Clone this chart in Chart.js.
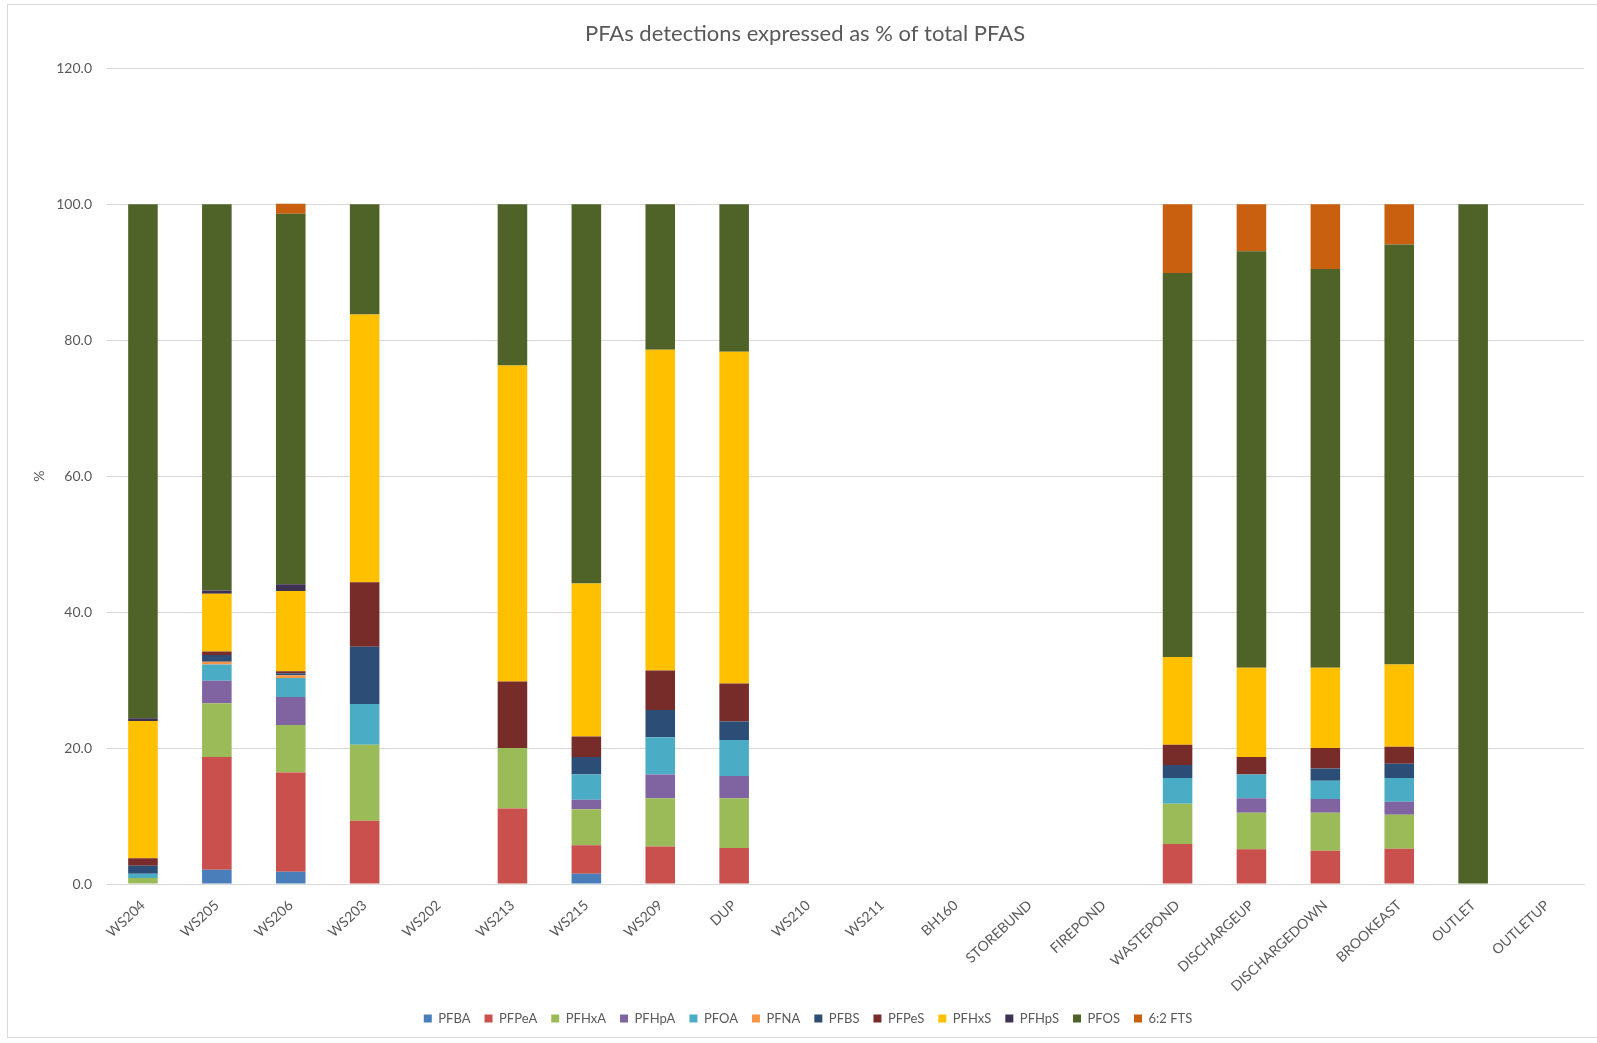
<!DOCTYPE html>
<html>
<head>
<meta charset="utf-8">
<script src="https://cdn.jsdelivr.net/npm/chart.js@4.4.0/dist/chart.umd.min.js"></script>
<style>
  html, body { margin: 0; padding: 0; background: #ffffff; }
  #wrap { position: relative; width: 1597px; height: 1043px; }
  #frame { position: absolute; left: 7px; top: 4px; width: 1595px; height: 1034px; border: 1px solid #d9d9d9; box-sizing: border-box; pointer-events: none; }
  canvas { position: absolute; left: 0; top: 0; }
</style>
</head>
<body>
<div id="wrap">
  <canvas id="c" width="1597" height="1043"></canvas>
  <div id="frame"></div>
</div>
<script>
const categories = ["WS204","WS205","WS206","WS203","WS202","WS213","WS215","WS209","DUP","WS210","WS211","BH160","STOREBUND","FIREPOND","WASTEPOND","DISCHARGEUP","DISCHARGEDOWN","BROOKEAST","OUTLET","OUTLETUP"];

const PFBA   = [0, 2.1, 1.8, 0, 0, 0, 1.5, 0, 0, 0, 0, 0, 0, 0, 0, 0, 0, 0, 0, 0];
const PFPeA  = [0, 16.6, 14.6, 9.3, 0, 11.1, 4.2, 5.5, 5.3, 0, 0, 0, 0, 0, 5.9, 5.1, 4.9, 5.2, 0, 0];
const PFHxA  = [0.9, 7.9, 7.0, 11.2, 0, 8.9, 5.3, 7.1, 7.3, 0, 0, 0, 0, 0, 5.9, 5.4, 5.6, 5.0, 0, 0];
const PFHpA  = [0, 3.3, 4.1, 0, 0, 0, 1.4, 3.5, 3.3, 0, 0, 0, 0, 0, 0, 2.1, 2.0, 1.9, 0, 0];
const PFOA   = [0.6, 2.4, 2.8, 6.0, 0, 0, 3.7, 5.5, 5.3, 0, 0, 0, 0, 0, 3.8, 3.5, 2.7, 3.5, 0, 0];
const PFNA   = [0, 0.4, 0.4, 0, 0, 0, 0, 0, 0, 0, 0, 0, 0, 0, 0, 0, 0, 0, 0, 0];
const PFBS   = [1.2, 1.0, 0.3, 8.4, 0, 0, 2.6, 4.0, 2.7, 0, 0, 0, 0, 0, 1.9, 0, 1.8, 2.1, 0, 0];
const PFPeS  = [1.1, 0.5, 0.3, 9.5, 0, 9.8, 3.0, 5.8, 5.6, 0, 0, 0, 0, 0, 3.0, 2.6, 3.0, 2.5, 0, 0];
const PFHxS  = [20.2, 8.5, 11.8, 39.4, 0, 46.5, 22.5, 47.2, 48.8, 0, 0, 0, 0, 0, 12.9, 13.1, 11.8, 12.1, 0, 0];
const PFHpS  = [0.4, 0.5, 1.0, 0, 0, 0, 0, 0, 0, 0, 0, 0, 0, 0, 0, 0, 0, 0, 0, 0];
const PFOS   = [75.6, 56.8, 54.5, 16.2, 0, 23.7, 55.8, 21.4, 21.7, 0, 0, 0, 0, 0, 56.5, 61.3, 58.7, 61.8, 100, 0];
const FTS62  = [0, 0, 1.5, 0, 0, 0, 0, 0, 0, 0, 0, 0, 0, 0, 10.1, 6.9, 9.5, 5.9, 0, 0];

const seriesNames = ["PFBA","PFPeA","PFHxA","PFHpA","PFOA","PFNA","PFBS","PFPeS","PFHxS","PFHpS","PFOS","6:2 FTS"];
const seriesValues = [PFBA, PFPeA, PFHxA, PFHpA, PFOA, PFNA, PFBS, PFPeS, PFHxS, PFHpS, PFOS, FTS62];
const seriesColors = ["#4a7ebb","#c9504d","#9bbb59","#8064a2","#4bacc6","#f79646","#2c4d75","#772c2a","#ffc000","#3f3151","#4f6228","#c8600f"];

const yTicks = [0, 20, 40, 60, 80, 100, 120];

const FONT = "Lato, 'Open Sans', sans-serif";
const TXT = "#595959";

// shift the full-width title and legend boxes slightly right, as in the reference
const shiftBoxes = {
  id: 'shiftBoxes',
  beforeDraw(chart) {
    if (chart.titleBlock) { chart.titleBlock.left = 13; chart.titleBlock.right = 1597; }
    if (chart.legend) { chart.legend.left = 16; chart.legend.right = 1600; }
  }
};

new Chart(document.getElementById('c'), {
  type: 'bar',
  data: {
    labels: categories,
    datasets: seriesNames.map((n, i) => ({
      label: n,
      data: seriesValues[i],
      backgroundColor: seriesColors[i],
      borderWidth: 0,
      barPercentage: 0.4,
      categoryPercentage: 1.0
    }))
  },
  options: {
    responsive: false,
    animation: false,
    devicePixelRatio: 1,
    layout: { padding: { left: 0, right: 13, top: 0, bottom: 8 } },
    plugins: {
      title: {
        display: true,
        text: "PFAs detections expressed as % of total PFAS",
        color: TXT,
        font: { family: FONT, size: 22, weight: 'normal' },
        padding: { top: 21, bottom: 21 }
      },
      legend: {
        position: 'bottom',
        labels: {
          color: TXT,
          font: { family: FONT, size: 13 },
          boxWidth: 8,
          boxHeight: 8,
          padding: 14
        }
      },
      tooltip: { enabled: false }
    },
    scales: {
      x: {
        stacked: true,
        grid: { display: false, drawTicks: false },
        border: { display: true, color: '#d9d9d9', width: 1 },
        ticks: {
          color: TXT,
          font: { family: FONT, size: 14 },
          autoSkip: false,
          maxRotation: 43,
          minRotation: 43,
          padding: 13
        },
        afterFit: (s) => { s.height = 114; }
      },
      y: {
        stacked: true,
        min: 0,
        max: 120,
        afterBuildTicks: (s) => { s.ticks = yTicks.map(v => ({ value: v })); },
        grid: { color: '#d9d9d9', lineWidth: 1, drawTicks: false },
        border: { display: false },
        ticks: {
          color: TXT,
          font: { family: FONT, size: 14 },
          padding: 14,
          callback: (v) => Number(v).toFixed(1)
        },
        title: {
          display: true,
          text: '%',
          color: TXT,
          font: { family: FONT, size: 14 },
          padding: { top: 31, bottom: 0 }
        },
        afterFit: (s) => { s.width = 106; }
      }
    }
  },
  plugins: [shiftBoxes]
});
</script>
</body>
</html>
